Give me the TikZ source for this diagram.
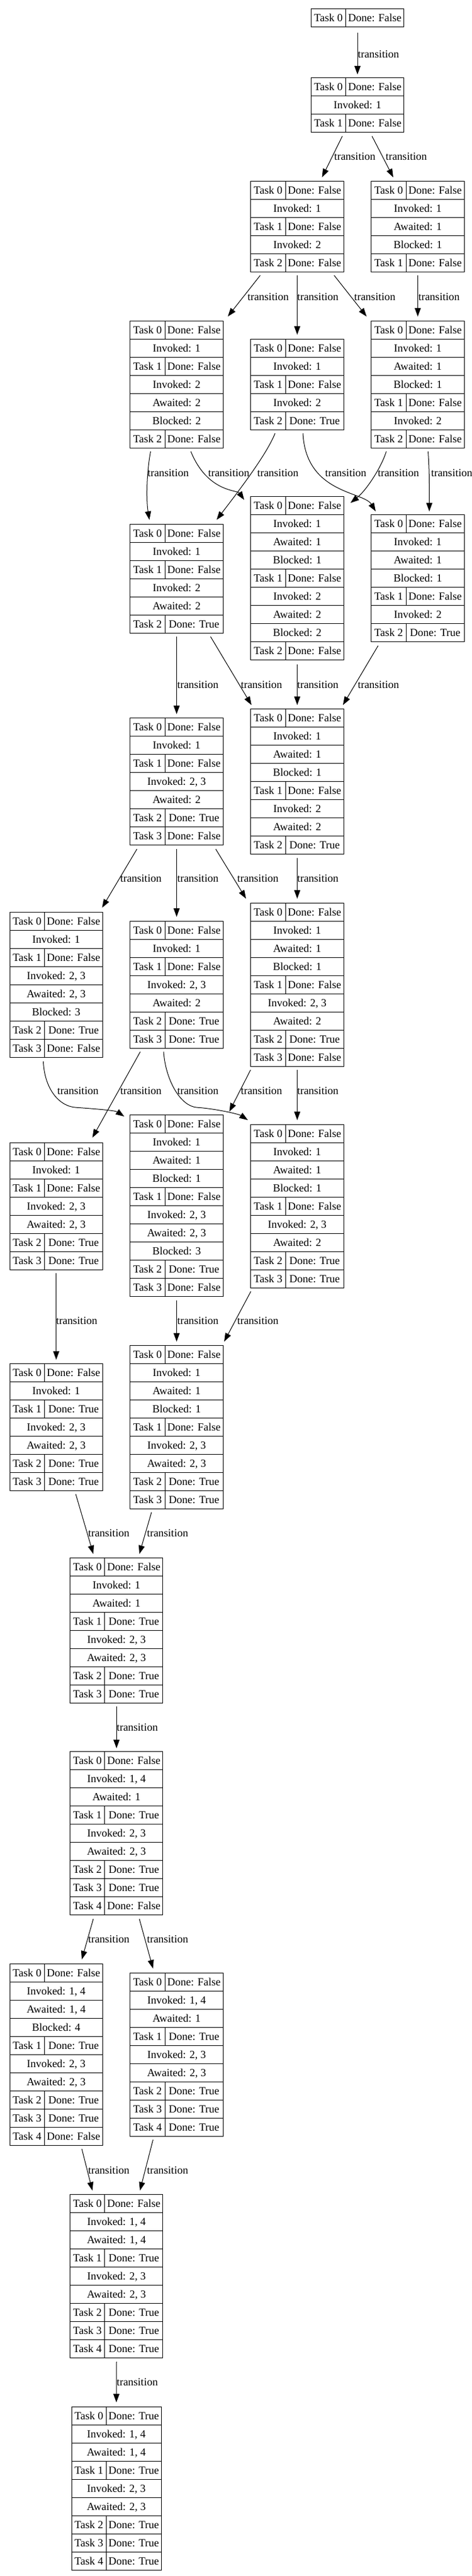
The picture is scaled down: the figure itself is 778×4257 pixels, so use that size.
\documentclass[tikz,border=0pt]{standalone}
\usepackage{fontspec}
\setmainfont{Liberation Serif}
\usepackage{array}
\usetikzlibrary{arrows.meta, calc}

\setlength{\tabcolsep}{0pt}
\setlength{\arrayrulewidth}{0.75pt}
\renewcommand{\arraystretch}{1.28}

\newcommand{\tsk}[2]{Task #1 & Done: #2 \\ \hline}
\newcommand{\fld}[1]{\multicolumn{2}{|c|}{#1} \\ \hline}
\newcommand{\taskrec}[2][71.25pt]{\begin{tabular}{|w{c}{42.35pt}|w{c}{#1}|}\hline #2\end{tabular}}

\begin{document}
\begin{tikzpicture}
                        [
                            x = 0.75pt, y = -0.75pt,
                            record/.style = {inner sep=0pt, outer sep=0pt, anchor=north, font=\fontsize{13.5}{17}\selectfont},
                            trans/.style = {-{Triangle[length=10.5pt, width=7.5pt]}, line width=0.75pt},
                            lbl/.style = {anchor=west, inner sep=0pt, font=\fontsize{13.5}{17}\selectfont},
                        ]
                        \useasboundingbox (0,0) rectangle (778,4257);

                        \node[record] (0s) at (590,14)      {\taskrec{\tsk{0}{False}}};
                        \node[record] (1s) at (590,128)     {\taskrec{\tsk{0}{False}\fld{Invoked: 1}\tsk{1}{False}}};
                        \node[record] (2s) at (490.5,299)   {\taskrec{\tsk{0}{False}\fld{Invoked: 1}\tsk{1}{False}\fld{Invoked: 2}\tsk{2}{False}}};
                        \node[record] (3s) at (689.5,299)   {\taskrec{\tsk{0}{False}\fld{Invoked: 1}\fld{Awaited: 1}\fld{Blocked: 1}\tsk{1}{False}}};
                        \node[record] (4s) at (291.5,530)   {\taskrec{\tsk{0}{False}\fld{Invoked: 1}\tsk{1}{False}\fld{Invoked: 2}\fld{Awaited: 2}\fld{Blocked: 2}\tsk{2}{False}}};
                        \node[record] (5s) at (490.5,560)   {\taskrec{\tsk{0}{False}\fld{Invoked: 1}\tsk{1}{False}\fld{Invoked: 2}\tsk{2}{True}}};
                        \node[record] (6s) at (689.5,530)   {\taskrec{\tsk{0}{False}\fld{Invoked: 1}\fld{Awaited: 1}\fld{Blocked: 1}\tsk{1}{False}\fld{Invoked: 2}\tsk{2}{False}}};
                        \node[record] (7s) at (291.5,866)   {\taskrec{\tsk{0}{False}\fld{Invoked: 1}\tsk{1}{False}\fld{Invoked: 2}\fld{Awaited: 2}\tsk{2}{True}}};
                        \node[record] (8s) at (490.5,820)   {\taskrec{\tsk{0}{False}\fld{Invoked: 1}\fld{Awaited: 1}\fld{Blocked: 1}\tsk{1}{False}\fld{Invoked: 2}\fld{Awaited: 2}\fld{Blocked: 2}\tsk{2}{False}}};
                        \node[record] (9s) at (689.5,850)   {\taskrec{\tsk{0}{False}\fld{Invoked: 1}\fld{Awaited: 1}\fld{Blocked: 1}\tsk{1}{False}\fld{Invoked: 2}\tsk{2}{True}}};
                        \node[record] (10s) at (291.5,1186) {\taskrec{\tsk{0}{False}\fld{Invoked: 1}\tsk{1}{False}\fld{Invoked: 2, 3}\fld{Awaited: 2}\tsk{2}{True}\tsk{3}{False}}};
                        \node[record] (11s) at (490.5,1171) {\taskrec{\tsk{0}{False}\fld{Invoked: 1}\fld{Awaited: 1}\fld{Blocked: 1}\tsk{1}{False}\fld{Invoked: 2}\fld{Awaited: 2}\tsk{2}{True}}};
                        \node[record] (12s) at (92.75,1507) {\taskrec{\tsk{0}{False}\fld{Invoked: 1}\tsk{1}{False}\fld{Invoked: 2, 3}\fld{Awaited: 2, 3}\fld{Blocked: 3}\tsk{2}{True}\tsk{3}{False}}};
                        \node[record] (13s) at (291.5,1522) {\taskrec{\tsk{0}{False}\fld{Invoked: 1}\tsk{1}{False}\fld{Invoked: 2, 3}\fld{Awaited: 2}\tsk{2}{True}\tsk{3}{True}}};
                        \node[record] (14s) at (490.5,1492) {\taskrec{\tsk{0}{False}\fld{Invoked: 1}\fld{Awaited: 1}\fld{Blocked: 1}\tsk{1}{False}\fld{Invoked: 2, 3}\fld{Awaited: 2}\tsk{2}{True}\tsk{3}{False}}};
                        \node[record] (15s) at (92.75,1888) {\taskrec{\tsk{0}{False}\fld{Invoked: 1}\tsk{1}{False}\fld{Invoked: 2, 3}\fld{Awaited: 2, 3}\tsk{2}{True}\tsk{3}{True}}};
                        \node[record] (16s) at (291.5,1842) {\taskrec{\tsk{0}{False}\fld{Invoked: 1}\fld{Awaited: 1}\fld{Blocked: 1}\tsk{1}{False}\fld{Invoked: 2, 3}\fld{Awaited: 2, 3}\fld{Blocked: 3}\tsk{2}{True}\tsk{3}{False}}};
                        \node[record] (17s) at (490.5,1858) {\taskrec{\tsk{0}{False}\fld{Invoked: 1}\fld{Awaited: 1}\fld{Blocked: 1}\tsk{1}{False}\fld{Invoked: 2, 3}\fld{Awaited: 2}\tsk{2}{True}\tsk{3}{True}}};
                        \node[record] (18s) at (92.75,2253) {\taskrec{\tsk{0}{False}\fld{Invoked: 1}\tsk{1}{True}\fld{Invoked: 2, 3}\fld{Awaited: 2, 3}\tsk{2}{True}\tsk{3}{True}}};
                        \node[record] (19s) at (291.5,2223) {\taskrec{\tsk{0}{False}\fld{Invoked: 1}\fld{Awaited: 1}\fld{Blocked: 1}\tsk{1}{False}\fld{Invoked: 2, 3}\fld{Awaited: 2, 3}\tsk{2}{True}\tsk{3}{True}}};
                        \node[record] (20s) at (192.25,2574) {\taskrec{\tsk{0}{False}\fld{Invoked: 1}\fld{Awaited: 1}\tsk{1}{True}\fld{Invoked: 2, 3}\fld{Awaited: 2, 3}\tsk{2}{True}\tsk{3}{True}}};
                        \node[record] (21s) at (192.25,2894) {\taskrec{\tsk{0}{False}\fld{Invoked: 1, 4}\fld{Awaited: 1}\tsk{1}{True}\fld{Invoked: 2, 3}\fld{Awaited: 2, 3}\tsk{2}{True}\tsk{3}{True}\tsk{4}{False}}};
                        \node[record] (22s) at (92.75,3245) {\taskrec{\tsk{0}{False}\fld{Invoked: 1, 4}\fld{Awaited: 1, 4}\fld{Blocked: 4}\tsk{1}{True}\fld{Invoked: 2, 3}\fld{Awaited: 2, 3}\tsk{2}{True}\tsk{3}{True}\tsk{4}{False}}};
                        \node[record] (23s) at (291.5,3260) {\taskrec{\tsk{0}{False}\fld{Invoked: 1, 4}\fld{Awaited: 1}\tsk{1}{True}\fld{Invoked: 2, 3}\fld{Awaited: 2, 3}\tsk{2}{True}\tsk{3}{True}\tsk{4}{True}}};
                        \node[record] (24s) at (192.25,3626) {\taskrec{\tsk{0}{False}\fld{Invoked: 1, 4}\fld{Awaited: 1, 4}\tsk{1}{True}\fld{Invoked: 2, 3}\fld{Awaited: 2, 3}\tsk{2}{True}\tsk{3}{True}\tsk{4}{True}}};
                        \node[record] (25s) at (192,3977)   {\taskrec[67.15pt]{\tsk{0}{True}\fld{Invoked: 1, 4}\fld{Awaited: 1, 4}\tsk{1}{True}\fld{Invoked: 2, 3}\fld{Awaited: 2, 3}\tsk{2}{True}\tsk{3}{True}\tsk{4}{True}}};

                        \draw[trans] ($(0s.south)+(0,9)$) -- ($(1s.north)+(0,-5)$) node[lbl] (0t) at (590,90) {transition};

                        \draw[trans] ($(1s.south)+(-25,6)$) -- ($(2s.north)+(41,-6)$) node[lbl] (1t) at (551,259) {transition};
                        \draw[trans] ($(1s.south)+(24,6)$) -- ($(3s.north)+(-40.5,-6)$) node[lbl] (2t) at (636,259) {transition};

                        \draw[trans] ($(2s.south)+(-61,5)$) -- ($(4s.north)+(84.5,-7)$) node[lbl] (3t) at (408,491) {transition};
                        \draw[trans] ($(2s.south)+(0,5)$) -- ($(5s.north)+(0,-7)$) node[lbl] (4t) at (490,491) {transition};
                        \draw[trans] ($(2s.south)+(61,5)$) -- ($(6s.north)+(-84.5,-7)$) node[lbl] (5t) at (584,491) {transition};
                        \draw[trans] ($(3s.south)+(0,5)$) -- ($(6s.north)+(0,-7)$) node[lbl] (6t) at (690,491) {transition};

                        \draw[trans] ($(4s.south)+(-43,5)$) .. controls +(-6.5,35) and +(-5.5,-34) .. ($(7s.north)+(-45,-7)$) node[lbl] (7t) at (243,782) {transition};
                        \draw[trans] ($(4s.south)+(23.5,5)$) .. controls +(27,67) and +(-11,-16) .. ($(8s.north)+(-87.5,6)$) node[lbl] (8t) at (343,782) {transition};
                        \draw[trans] ($(5s.south)+(-36.5,5)$) .. controls +(-14,35) and +(37.5,-49) .. ($(7s.north)+(66,-7)$) node[lbl] (9t) at (424,782) {transition};
                        \draw[trans] ($(5s.south)+(9.5,5)$) .. controls +(5,100) and +(-20,-33) .. ($(9s.north)+(-69.5,-5)$) node[lbl] (10t) at (536,782) {transition};
                        \draw[trans] ($(6s.south)+(-52,5)$) .. controls +(-7.5,25) and +(26.5,-21) .. ($(8s.north)+(88,11)$) node[lbl] (11t) at (623,782) {transition};
                        \draw[trans] ($(6s.south)+(17,5)$) .. controls +(2.5,35) and +(0,-35) .. ($(9s.north)+(19,-5)$) node[lbl] (12t) at (711,782) {transition};

                        \draw[trans] ($(7s.south)+(0,5)$) -- ($(10s.north)+(0,-6)$) node[lbl] (13t) at (292,1132) {transition};
                        \draw[trans] ($(7s.south)+(56,5)$) -- ($(11s.north)+(-75.5,-6)$) node[lbl] (14t) at (397,1132) {transition};
                        \draw[trans] ($(8s.south)+(0,7)$) -- ($(11s.north)+(0,-6)$) node[lbl] (15t) at (490,1132) {transition};
                        \draw[trans] ($(9s.south)+(-65.5,6)$) -- ($(11s.north)+(75.5,-6)$) node[lbl] (16t) at (590,1132) {transition};

                        \draw[trans] ($(10s.south)+(-65.5,6)$) -- ($(12s.north)+(75.75,-7)$) node[lbl] (17t) at (198,1452) {transition};
                        \draw[trans] ($(10s.south)+(0,6)$) -- ($(13s.north)+(0,-7)$) node[lbl] (18t) at (292,1452) {transition};
                        \draw[trans] ($(10s.south)+(64.5,6)$) -- ($(14s.north)+(-84.5,-7)$) node[lbl] (19t) at (391,1452) {transition};
                        \draw[trans] ($(11s.south)+(0,6)$) -- ($(14s.north)+(0,-7)$) node[lbl] (20t) at (490,1452) {transition};

                        \draw[trans] ($(12s.south)+(-21.25,6)$) .. controls +(2,45) and +(-28,-2) .. ($(12s.south)+(32.25,82)$) .. controls +(28,2) and +(-15,-10) .. ($(16s.north)+(-86.5,3)$) node[lbl] (21t) at (94,1803) {transition};
                        \draw[trans] ($(13s.south)+(-60,5)$) -- ($(15s.north)+(59.75,-8)$) node[lbl] (22t) at (198,1803) {transition};
                        \draw[trans] ($(13s.south)+(-21.5,5)$) .. controls +(3,45) and +(-28,-2) .. ($(13s.south)+(33.5,97)$) .. controls +(30,2) and +(-15,-10) .. ($(17s.north)+(-81.5,-7)$) node[lbl] (23t) at (292,1803) {transition};
                        \draw[trans] ($(14s.south)+(-77,5)$) -- ($(16s.north)+(87,-5)$) node[lbl] (24t) at (397,1803) {transition};
                        \draw[trans] ($(14s.south)+(0,5)$) -- ($(17s.north)+(0,-7)$) node[lbl] (25t) at (490,1803) {transition};

                        \draw[trans] ($(15s.south)+(0,5)$) -- ($(18s.north)+(0,-6)$) node[lbl] (26t) at (92,2183) {transition};
                        \draw[trans] ($(16s.south)+(0,6)$) -- ($(19s.north)+(0,-6)$) node[lbl] (27t) at (292,2183) {transition};
                        \draw[trans] ($(17s.south)+(-76.5,5)$) -- ($(19s.north)+(78.5,-6)$) node[lbl] (28t) at (391,2183) {transition};

                        \draw[trans] ($(18s.south)+(32.25,5)$) -- ($(20s.north)+(-38.25,-6)$) node[lbl] (29t) at (145,2534) {transition};
                        \draw[trans] ($(19s.south)+(-41.5,5)$) -- ($(20s.north)+(37.75,-6)$) node[lbl] (30t) at (242,2534) {transition};

                        \draw[trans] ($(20s.south)+(0,5)$) -- ($(21s.north)+(0,-5)$) node[lbl] (31t) at (192,2855) {transition};

                        \draw[trans] ($(21s.south)+(-38.25,6)$) -- ($(22s.north)+(42.25,-7)$) node[lbl] (32t) at (145,3205) {transition};
                        \draw[trans] ($(21s.south)+(37.75,6)$) -- ($(23s.north)+(-39,-7)$) node[lbl] (33t) at (242,3205) {transition};

                        \draw[trans] ($(22s.south)+(42.25,5)$) -- ($(24s.north)+(-39.75,-6)$) node[lbl] (34t) at (145,3587) {transition};
                        \draw[trans] ($(23s.south)+(-39,5)$) -- ($(24s.north)+(38.75,-6)$) node[lbl] (35t) at (242,3587) {transition};

                        \draw[trans] ($(24s.south)+(0,6)$) -- ($(25s.north)+(0,-7)$) node[lbl] (36t) at (192,3937) {transition};
                    \end{tikzpicture}
\end{document}
